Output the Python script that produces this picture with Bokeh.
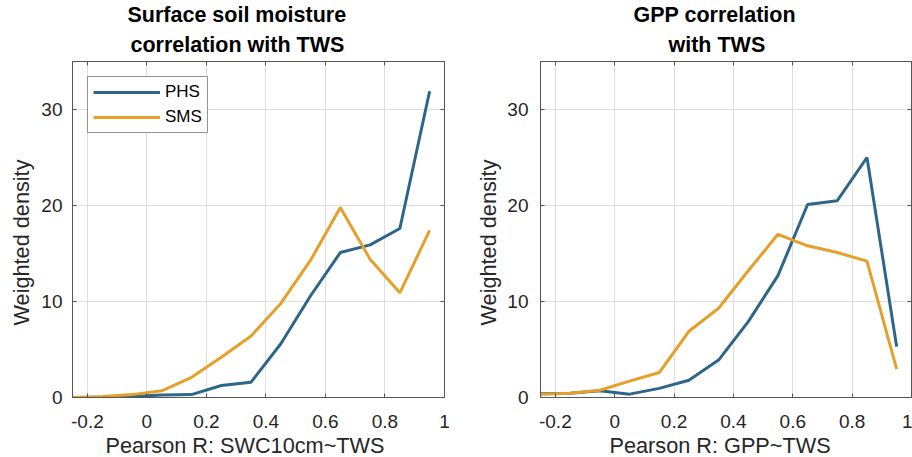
from bokeh.plotting import figure
from bokeh.layouts import row
from bokeh.models import (Range1d, FixedTicker, CustomJSTickFormatter, LinearAxis,
                          Title, Legend, LegendItem)
from bokeh.embed import file_html
from bokeh.resources import INLINE

# ---- data ----
r_bins = [-0.25, -0.15, -0.05, 0.05, 0.15, 0.25, 0.35, 0.45, 0.55, 0.65, 0.75, 0.85, 0.95]

swc_phs = [0.0, 0.0, 0.1, 0.25, 0.3, 1.25, 1.6, 5.6, 10.6, 15.1, 15.9, 17.6, 31.9]
swc_sms = [0.0, 0.1, 0.3, 0.7, 2.1, 4.2, 6.4, 9.8, 14.3, 19.8, 14.4, 10.9, 17.4]

gpp_phs = [0.4, 0.45, 0.7, 0.35, 0.95, 1.8, 3.9, 7.9, 12.7, 20.1, 20.5, 25.0, 5.3]
gpp_sms = [0.35, 0.45, 0.75, 1.7, 2.6, 6.9, 9.3, 13.2, 17.0, 15.8, 15.1, 14.2, 2.95]

x_ticks = [-0.2, 0.0, 0.2, 0.4, 0.6, 0.8, 1.0]
y_ticks = [0, 10, 20, 30]

titles_left = ["Surface soil moisture", "correlation with TWS"]
titles_right = ["GPP correlation", "with TWS"]
xlabel_left = "Pearson R: SWC10cm~TWS"
xlabel_right = "Pearson R: GPP~TWS"
ylabel = "Weighted density"
series_names = ["PHS", "SMS"]

BLUE = "#2E6689"
ORANGE = "#E6A02A"
FONT = "Liberation Sans"
TXT = "#262626"
AX = "#555555"
LABEL_SIZE = "21.7px"
TITLE_SIZE = "21.5px"


def make_fig(width, border_left, border_right, phs, sms, titles, xlabel,
             title_offsets, xlabel_offset, ylabel_offset, ylabel_standoff,
             legend=False, lab_standoff=10):
    p = figure(width=width, height=457, output_backend="svg", toolbar_location=None,
               x_range=Range1d(-0.25, 1.0), y_range=Range1d(0, 35),
               min_border_left=border_left, min_border_right=border_right,
               min_border_top=0, min_border_bottom=0)
    p.background_fill_color = "white"
    p.border_fill_color = "white"
    p.outline_line_color = AX
    p.outline_line_width = 1

    fmt = CustomJSTickFormatter(code="return tick.toFixed(1).replace(/\\.0$/, '');")

    for ax in (p.xaxis[0], p.yaxis[0]):
        ax.axis_line_color = AX
        ax.major_tick_line_color = AX
        ax.major_tick_in = 4
        ax.major_tick_out = 0
        ax.minor_tick_in = 0
        ax.minor_tick_out = 0
        ax.major_label_text_font = FONT
        ax.major_label_text_font_size = "19px"
        ax.major_label_text_color = TXT

    p.xaxis[0].ticker = FixedTicker(ticks=x_ticks)
    p.xaxis[0].formatter = fmt
    p.xaxis[0].major_label_standoff = 17

    p.yaxis[0].ticker = FixedTicker(ticks=y_ticks)
    p.yaxis[0].major_label_standoff = lab_standoff

    # mirror ticks on top and right (box on), without labels
    for side, ticks in (("above", x_ticks), ("right", y_ticks)):
        ax = LinearAxis(ticker=FixedTicker(ticks=ticks), major_label_text_color=None,
                        major_label_text_font_size="1px", major_label_standoff=0,
                        major_tick_in=4, major_tick_out=0, minor_tick_in=0,
                        minor_tick_out=0, axis_line_color=AX, major_tick_line_color=AX)
        p.add_layout(ax, side)

    p.xgrid.ticker = FixedTicker(ticks=x_ticks)
    p.ygrid.ticker = FixedTicker(ticks=y_ticks)
    for g in (p.xgrid[0], p.ygrid[0]):
        g.grid_line_color = "#dedede"
        g.grid_line_width = 1

    r1 = p.line(r_bins, phs, line_color=BLUE, line_width=3)
    r2 = p.line(r_bins, sms, line_color=ORANGE, line_width=3)

    # axis labels as titles so they can be placed like the reference
    xl = Title(text=xlabel, align="left", offset=xlabel_offset, text_font=FONT,
               text_font_size=LABEL_SIZE, text_font_style="normal", text_color=TXT,
               standoff=0)
    p.add_layout(xl, "below")
    yl = Title(text=ylabel, align="left", offset=ylabel_offset, text_font=FONT,
               text_font_size=LABEL_SIZE, text_font_style="normal", text_color=TXT,
               standoff=ylabel_standoff)
    p.add_layout(yl, "left")

    # two-line title (later added = further out)
    t2 = Title(text=titles[1], align="left", text_font=FONT, text_font_size=TITLE_SIZE,
               text_font_style="bold", text_color="black", standoff=9, offset=title_offsets[1])
    t1 = Title(text=titles[0], align="left", text_font=FONT, text_font_size=TITLE_SIZE,
               text_font_style="bold", text_color="black", standoff=0, offset=title_offsets[0])
    p.add_layout(t2, "above")
    p.add_layout(t1, "above")

    if legend:
        lg = Legend(items=[LegendItem(label=series_names[0], renderers=[r1]),
                           LegendItem(label=series_names[1], renderers=[r2])],
                    location="top_left", margin=15, padding=5, spacing=5,
                    glyph_width=67, glyph_height=20, label_height=20, label_standoff=5,
                    label_text_font=FONT, label_text_font_size="17px",
                    label_text_color="black", border_line_color=TXT, border_line_width=1,
                    background_fill_color="white", background_fill_alpha=1.0)
        p.add_layout(lg, "center")
    return p


left = make_fig(460, 72, 16, swc_phs, swc_sms, titles_left, xlabel_left,
                (55, 58), 33, 72, 10, legend=True, lab_standoff=10)
right_fig = make_fig(452, 80, 1, gpp_phs, gpp_sms, titles_right, xlabel_right,
                     (93, 128), 69, 72, 8, legend=False, lab_standoff=12)

layout = row(left, right_fig)
open("out.html", "w").write(file_html(layout, INLINE))
